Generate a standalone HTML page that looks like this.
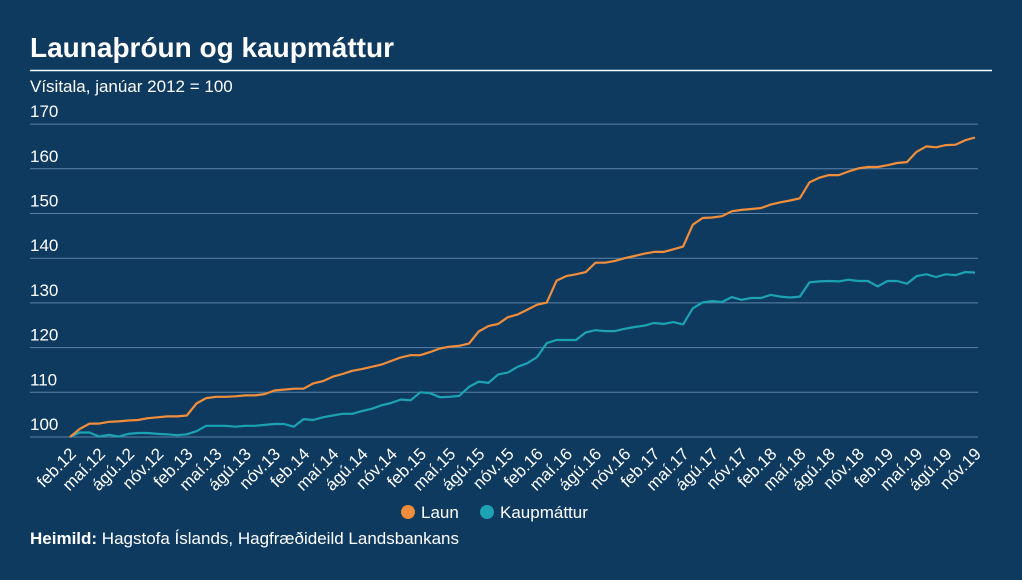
<!DOCTYPE html>
<html><head><meta charset="utf-8"><style>
body{margin:0;background:#0f3a60;width:1022px;height:575px;overflow:hidden;font-family:"Liberation Sans",sans-serif;color:#fff}
</style></head><body>
<svg width="1022" height="575">
<rect width="1022" height="575" fill="#0f3a60"/>
<text x="30" y="57" font-size="28" font-weight="bold" fill="#fff">Launaþróun og kaupmáttur</text>
<line x1="30" y1="70.5" x2="992" y2="70.5" stroke="#fff" stroke-width="1.5"/>
<text x="30" y="92" font-size="17" fill="#fff">Vísitala, janúar 2012 = 100</text>
<g id="grid"></g><g id="xl"></g><g id="lines"></g>
<g>
<circle cx="408" cy="512" r="7" fill="#f28e3a"/>
<text x="421" y="518" font-size="17" fill="#fff">Laun</text>
<circle cx="487" cy="512" r="7" fill="#1ba3b4"/>
<text x="500" y="518" font-size="17" fill="#fff">Kaupmáttur</text>
</g>
<text x="30" y="544" font-size="17" fill="#fff"><tspan font-weight="bold">Heimild:</tspan> Hagstofa Íslands, Hagfræðideild Landsbankans</text>
</svg>
<script>
const yTicks=[100,110,120,130,140,150,160,170];
const xTickLabels=[];
const months=["feb","maí","ágú","nóv"];
for(let y=12;y<=19;y++)for(const m of months)xTickLabels.push(m+"."+y);
const laun=[100,101.8,103,103,103.4,103.5,103.7,103.8,104.2,104.4,104.6,104.6,104.8,107.5,108.7,109,109,109.1,109.3,109.3,109.6,110.4,110.6,110.8,110.8,112,112.5,113.5,114.1,114.8,115.2,115.7,116.2,117,117.8,118.3,118.3,119,119.8,120.2,120.4,120.9,123.6,124.8,125.3,126.8,127.4,128.5,129.6,130.1,135,136,136.4,136.9,139,139,139.4,140,140.5,141,141.4,141.4,142,142.6,147.5,149,149.1,149.4,150.5,150.8,151,151.2,152,152.5,152.9,153.4,157,158,158.6,158.6,159.4,160.1,160.4,160.4,160.8,161.3,161.5,163.8,165,164.8,165.3,165.4,166.4,167];
const kaupmattur=[100,101,101,100.1,100.5,100.1,100.7,100.9,100.9,100.7,100.6,100.4,100.6,101.3,102.5,102.5,102.5,102.3,102.5,102.5,102.7,102.9,102.9,102.3,104,103.8,104.4,104.8,105.2,105.2,105.8,106.3,107.1,107.6,108.4,108.2,110,109.8,108.9,109,109.2,111.2,112.4,112.1,114,114.4,115.7,116.5,117.9,121,121.7,121.7,121.7,123.4,123.9,123.7,123.7,124.2,124.6,124.9,125.5,125.3,125.7,125.2,128.8,130.1,130.4,130.2,131.3,130.7,131.1,131.1,131.8,131.4,131.2,131.4,134.6,134.8,134.9,134.8,135.2,134.9,134.9,133.7,134.9,134.9,134.3,136,136.4,135.8,136.4,136.2,136.9,136.8];
const NS="http://www.w3.org/2000/svg";
const X=i=>70+i*(905/(laun.length-1));
const Y=v=>437-(v-100)*4.47;
const grid=document.getElementById("grid");
yTicks.forEach(t=>{
 const l=document.createElementNS(NS,"line");
 l.setAttribute("x1",30);l.setAttribute("x2",978);l.setAttribute("y1",Y(t));l.setAttribute("y2",Y(t));
 l.setAttribute("stroke","#5b83a8");l.setAttribute("stroke-width","1");
 
 
 grid.appendChild(l);
 const tx=document.createElementNS(NS,"text");
 tx.setAttribute("x",30);tx.setAttribute("y",Y(t)-7);tx.setAttribute("font-size","17");tx.setAttribute("fill","#fff");
 tx.textContent=t;
 
 
 grid.appendChild(tx);
});
const xl=document.getElementById("xl");
xTickLabels.forEach((s,k)=>{
 const x=X(k*3)+7,y=455;
 const tx=document.createElementNS(NS,"text");
 tx.setAttribute("x",x);tx.setAttribute("y",y);tx.setAttribute("font-size","17");tx.setAttribute("fill","#fff");
 tx.setAttribute("text-anchor","end");tx.setAttribute("transform",`rotate(-45 ${x} ${y})`);
 tx.textContent=s;
 
 
 xl.appendChild(tx);
});
const lines=document.getElementById("lines");
function draw(arr,color,name){
 const p=document.createElementNS(NS,"polyline");
 p.setAttribute("points",arr.map((v,i)=>X(i).toFixed(1)+","+Y(v).toFixed(1)).join(" "));
 p.setAttribute("fill","none");p.setAttribute("stroke",color);p.setAttribute("stroke-width","2.2");p.setAttribute("stroke-linejoin","round");
 
 
 lines.appendChild(p);
}
draw(kaupmattur,"#1ba3b4","kaupmattur-line");
draw(laun,"#f28e3a","laun-line");
</script>
</body></html>
